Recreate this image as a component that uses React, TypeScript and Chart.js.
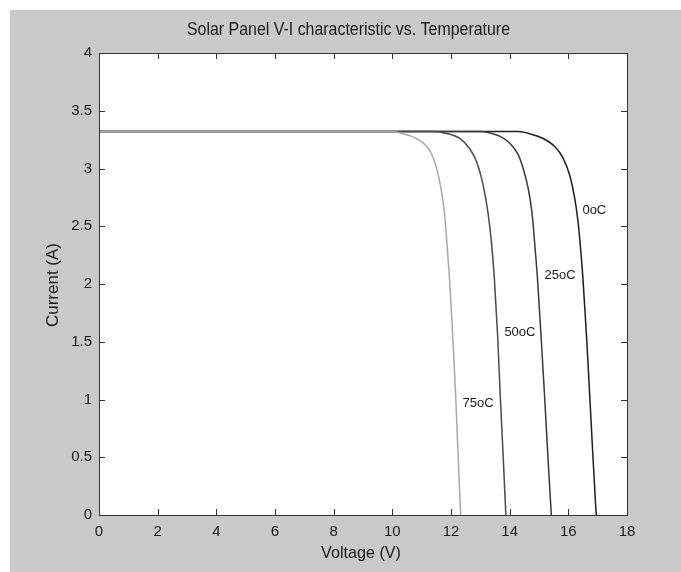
import React, { useEffect, useRef } from "react";
import { Chart, registerables } from "chart.js";

Chart.register(...registerables);

// ---- data ----
const xTicks = [0, 2, 4, 6, 8, 10, 12, 14, 16, 18];
const yTicks = [0, 0.5, 1, 1.5, 2, 2.5, 3, 3.5, 4];

const seriesNames = ["75oC", "50oC", "25oC", "0oC"];

const v75 = [0, 10.0, 10.37, 10.82, 11.1, 11.33, 11.5, 11.65, 11.78, 11.87, 11.95, 12.06, 12.16, 12.245, 12.33];
const i75 = [3.32, 3.32, 3.3, 3.26, 3.21, 3.13, 3.01, 2.84, 2.61, 2.32, 2.04, 1.55, 1.03, 0.5, 0];

const v50 = [0, 11.5, 11.73, 12.3, 12.64, 12.87, 13.1, 13.26, 13.38, 13.48, 13.59, 13.68, 13.78, 13.87];
const i50 = [3.32, 3.32, 3.31, 3.26, 3.17, 3.06, 2.85, 2.62, 2.36, 2.04, 1.55, 1.03, 0.5, 0];

const v25 = [0, 13.0, 13.3, 13.66, 14.0, 14.29, 14.46, 14.63, 14.76, 14.87, 14.95, 15.07, 15.19, 15.305, 15.42];
const i25 = [3.32, 3.32, 3.31, 3.28, 3.22, 3.12, 3.0, 2.83, 2.62, 2.3, 2.04, 1.55, 1.03, 0.5, 0];

const v0 = [0, 14.3, 14.7, 15.14, 15.54, 15.82, 16.05, 16.22, 16.33, 16.42, 16.5, 16.62, 16.73, 16.84, 16.95];
const i0 = [3.32, 3.32, 3.3, 3.26, 3.19, 3.09, 2.94, 2.74, 2.54, 2.3, 2.04, 1.55, 1.03, 0.5, 0];

// label anchor points (data units): left edge / vertical middle
const labelV = [12.39, 13.82, 15.19, 16.48];
const labelI = [0.97, 1.58, 2.07, 2.64];

const titleText = "Solar Panel V-I characteristic vs. Temperature";
const xTitle = "Voltage (V)";
const yTitle = "Current (A)";

// ---- styles ----
const FONT = '"Liberation Sans", Arial, sans-serif';
const lineColors = ["#a8a8a8", "#4a4a4a", "#3a3a3a", "#1e1e1e"];

function toPoints(v: number[], i: number[]) {
  return v.map((x, k) => ({ x, y: i[k] }));
}

function drawFitText(
  ctx: CanvasRenderingContext2D,
  text: string,
  x: number,
  y: number,
  size: number,
  targetW: number,
  rotate = false
) {
  ctx.save();
  ctx.font = `${size}px ${FONT}`;
  const w = ctx.measureText(text).width;
  const sx = targetW / w;
  ctx.translate(x, y);
  if (rotate) ctx.rotate(-Math.PI / 2);
  ctx.scale(sx, 1);
  ctx.fillStyle = "#1a1a1a";
  ctx.textAlign = "center";
  ctx.textBaseline = "middle";
  ctx.fillText(text, 0, 0);
  ctx.restore();
}

const decorPlugin = {
  id: "decor",
  beforeDatasetsDraw(chart: any) {
    const { ctx, chartArea: a } = chart;
    ctx.save();
    ctx.fillStyle = "#ffffff";
    ctx.fillRect(a.left, a.top, a.right - a.left, a.bottom - a.top);
    ctx.restore();
  },
  afterDatasetsDraw(chart: any) {
    const { ctx, chartArea: a, scales } = chart;
    const xs = scales.x;
    const ys = scales.y;
    ctx.save();
    ctx.strokeStyle = "#333333";
    ctx.lineWidth = 1;
    ctx.strokeRect(Math.round(a.left) + 0.5, Math.round(a.top) + 0.5, Math.round(a.right - a.left), Math.round(a.bottom - a.top));
    const tl = 6;
    ctx.beginPath();
    xTicks.forEach((v) => {
      const px = Math.round(xs.getPixelForValue(v)) + 0.5;
      ctx.moveTo(px, a.bottom);
      ctx.lineTo(px, a.bottom - tl);
      ctx.moveTo(px, a.top);
      ctx.lineTo(px, a.top + tl);
    });
    yTicks.forEach((v) => {
      const py = Math.round(ys.getPixelForValue(v)) + 0.5;
      ctx.moveTo(a.left, py);
      ctx.lineTo(a.left + tl, py);
      ctx.moveTo(a.right, py);
      ctx.lineTo(a.right - tl, py);
    });
    ctx.stroke();

    // curve labels
    ctx.font = `13px ${FONT}`;
    ctx.fillStyle = "#1a1a1a";
    ctx.textAlign = "left";
    ctx.textBaseline = "middle";
    seriesNames.forEach((name, k) => {
      ctx.fillText(name, xs.getPixelForValue(labelV[k]), ys.getPixelForValue(labelI[k]));
    });
    ctx.restore();
  },
  afterDraw(chart: any) {
    const { ctx } = chart;
    drawFitText(ctx, titleText, 338.5, 20, 19, 323);
    drawFitText(ctx, xTitle, 351, 543, 17, 80);
    drawFitText(ctx, yTitle, 43, 275, 17, 84, true);
  },
};

export default function App() {
  const ref = useRef<HTMLCanvasElement | null>(null);

  useEffect(() => {
    if (!ref.current) return;
    const series = [
      toPoints(v75, i75),
      toPoints(v50, i50),
      toPoints(v25, i25),
      toPoints(v0, i0),
    ];
    const chart = new Chart(ref.current, {
      type: "scatter",
      data: {
        datasets: series.map((pts, k) => ({
          label: seriesNames[k],
          data: pts,
          showLine: true,
          borderColor: lineColors[k],
          backgroundColor: lineColors[k],
          borderWidth: 1.5,
          pointRadius: 0,
          pointHoverRadius: 0,
          cubicInterpolationMode: "monotone" as const,
        })),
      },
      options: {
        animation: false,
        responsive: false,
        events: [],
        layout: { padding: { top: 43, right: 54, left: 0, bottom: 0 } },
        plugins: {
          legend: { display: false },
          title: { display: false },
          tooltip: { enabled: false },
        },
        scales: {
          x: {
            type: "linear",
            min: 0,
            max: 18,
            afterBuildTicks: (s: any) => {
              s.ticks = xTicks.map((v) => ({ value: v }));
            },
            afterFit: (s: any) => {
              s.height = 57;
            },
            grid: { display: false, drawTicks: false },
            border: { display: false },
            ticks: {
              autoSkip: false,
              maxRotation: 0,
              padding: 8,
              color: "#1a1a1a",
              font: { family: FONT, size: 15 },
              callback: (v: any) => String(v),
            },
          },
          y: {
            type: "linear",
            min: 0,
            max: 4,
            afterBuildTicks: (s: any) => {
              s.ticks = yTicks.map((v) => ({ value: v }));
            },
            afterFit: (s: any) => {
              s.width = 89;
            },
            grid: { display: false, drawTicks: false },
            border: { display: false },
            ticks: {
              autoSkip: false,
              padding: 7,
              color: "#1a1a1a",
              font: { family: FONT, size: 15 },
              callback: (v: any) => String(v),
            },
          },
        },
      },
      plugins: [decorPlugin],
    });
    return () => chart.destroy();
  }, []);

  return (
    <div style={{ position: "fixed", left: 0, top: 0, width: 681, height: 572, background: "#ffffff" }}>
      <div style={{ position: "absolute", left: 10, top: 10, width: 671, height: 562, background: "#c9c9c9" }}>
        <canvas ref={ref} width={671} height={562} style={{ display: "block", width: 671, height: 562 }} />
      </div>
    </div>
  );
}
